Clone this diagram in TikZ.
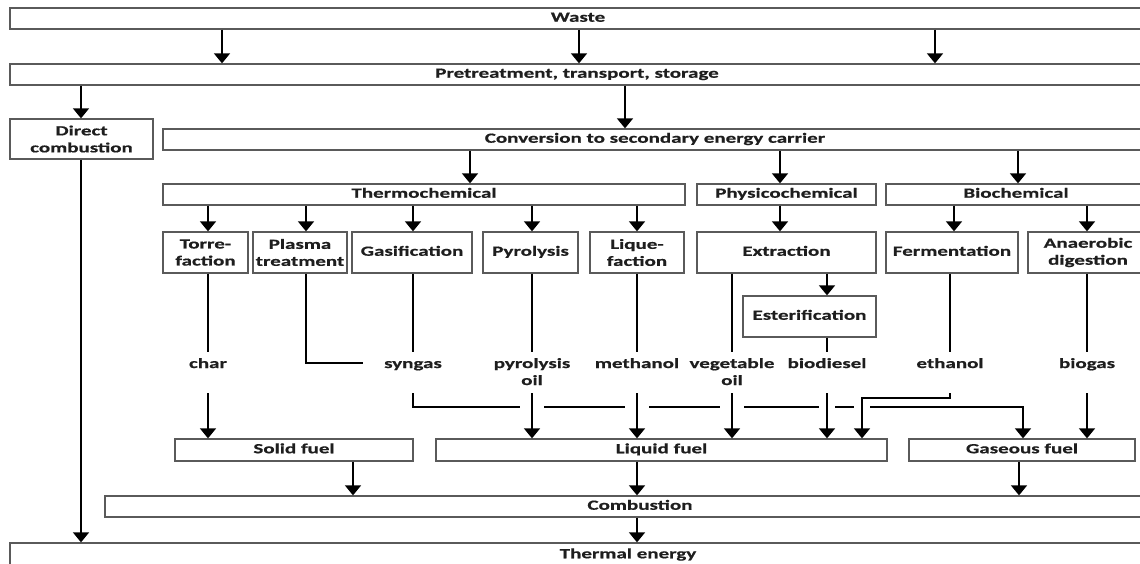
\documentclass[tikz,border=0pt]{standalone}
\usepackage{fontspec}
\setmainfont{Carlito}[FakeStretch=1.5, FakeBold=0.6]
\usetikzlibrary{arrows.meta}
\definecolor{boxgray}{HTML}{5A5A5A}
\definecolor{txt}{HTML}{1E1E1E}
\begin{document}
\begin{tikzpicture}[x=1pt,y=-1pt,
  every node/.style={font=\fontsize{14}{17}\selectfont\bfseries, text=txt},
  box/.style={draw=boxgray, line width=1.3pt, inner sep=0pt, align=center, text height=9.5pt, text depth=3pt},
  boxtwo/.style={draw=boxgray, line width=1.3pt, inner sep=0pt, align=center},
  lab/.style={inner xsep=0pt, inner ysep=6pt, align=center, anchor=base},
  labone/.style={lab, text height=10pt, text depth=3pt},
  arr/.style={line width=1.6pt, -{Triangle[width=16pt,length=10pt]}},
  ln/.style={line width=1.6pt},
  gap/.style={white, line width=5pt}
]
\useasboundingbox (0,0) rectangle (1140,564);
\fill[white] (0,0) rectangle (1140,564);
\clip (0,0) rectangle (1140,564);

% boxes
\node[box, minimum width=1136pt, minimum height=21pt] (waste) at (578,18.5) {Waste};
\node[box, minimum width=1134pt, minimum height=21pt] (pre) at (577,74.5) {Pretreatment, transport, storage};
\node[boxtwo, minimum width=143pt, minimum height=40pt] (dc) at (81.5,139) {Direct\\combustion};
\node[box, minimum width=984pt, minimum height=21pt] (conv) at (655,139.5) {Conversion to secondary energy carrier};
\node[box, minimum width=522pt, minimum height=21pt] (thermo) at (424,194.5) {Thermochemical};
\node[box, minimum width=179pt, minimum height=21pt] (physico) at (786.5,194.5) {Physicochemical};
\node[box, minimum width=260pt, minimum height=21pt] (bio) at (1016,194.5) {Biochemical};
\node[boxtwo, minimum width=85pt, minimum height=41pt] (torr) at (205.5,252.5) {Torre-\\faction};
\node[boxtwo, minimum width=94pt, minimum height=41pt] (plasma) at (300,252.5) {Plasma\\treatment};
\node[box, minimum width=120pt, minimum height=41pt] (gasif) at (412,252.5) {Gasification};
\node[box, minimum width=95pt, minimum height=41pt] (pyro) at (530.5,252.5) {Pyrolysis};
\node[boxtwo, minimum width=94pt, minimum height=41pt] (lique) at (637,252.5) {Lique-\\faction};
\node[box, minimum width=179pt, minimum height=41pt] (extr) at (786.5,252.5) {Extraction};
\node[box, minimum width=132pt, minimum height=41pt] (ferm) at (952,252.5) {Fermentation};
\node[boxtwo, minimum width=120pt, minimum height=41pt] (anaer) at (1088,252.5) {Anaerobic\\digestion};
\node[box, minimum width=133pt, minimum height=41pt] (ester) at (809.5,316.5) {Esterification};
\node[box, minimum width=238pt, minimum height=22pt] (solid) at (294,450) {Solid fuel};
\node[box, minimum width=451pt, minimum height=22pt] (liquid) at (661.5,450) {Liquid fuel};
\node[box, minimum width=226pt, minimum height=22pt] (gas) at (1022,450) {Gaseous fuel};
\node[box, minimum width=1070pt, minimum height=21pt] (comb) at (640,506.5) {Combustion};
\node[box, minimum width=1236pt, minimum height=24pt] (thermal) at (628,555) {Thermal energy};

% product labels
\node[labone] (char) at (208,368) {char};
\node[labone] (syngas) at (413,368) {syngas};
\node[lab] (pyl) at (532,385) {pyrolysis\\oil};
\node[labone] (meth) at (637,368) {methanol};
\node[lab] (veg) at (732,385) {vegetable\\oil};
\node[labone] (biod) at (827,368) {biodiesel};
\node[labone] (eth) at (950,368) {ethanol};
\node[labone] (biog) at (1087,368) {biogas};

% helper coordinates
\path (222,0) coordinate (wA) (579,0) coordinate (wB) (935,0) coordinate (wC)
      (81,0) coordinate (pD) (625,0) coordinate (pC)
      (470,0) coordinate (cT) (780,0) coordinate (cP) (1018,0) coordinate (cB)
      (306,0) coordinate (tB) (954,0) coordinate (bA)
      (353,0) coordinate (sC) (1019,0) coordinate (gC)
      (862,0) coordinate (ethX) (1023,0) coordinate (synX)
      (0,393) coordinate (yS) (0,407) coordinate (yH) (0,398) coordinate (yE)
      (363,363) coordinate (pEnd);

% upper arrows
\foreach \c in {wA,wB,wC} \draw[arr] (waste.south -| \c) -- (pre.north -| \c);
\draw[arr] (pre.south -| pD) -- (dc.north -| pD);
\draw[arr] (pre.south -| pC) -- (conv.north -| pC);
\draw[arr] (dc.south -| pD) -- (thermal.north -| pD);
\draw[arr] (conv.south -| cT) -- (thermo.north -| cT);
\draw[arr] (conv.south -| cP) -- (physico.north -| cP);
\draw[arr] (conv.south -| cB) -- (bio.north -| cB);
\draw[arr] (thermo.south -| char) -- (torr.north -| char);
\draw[arr] (thermo.south -| tB) -- (plasma.north -| tB);
\draw[arr] (thermo.south -| syngas) -- (gasif.north -| syngas);
\draw[arr] (thermo.south -| pyl) -- (pyro.north -| pyl);
\draw[arr] (thermo.south -| meth) -- (lique.north -| meth);
\draw[arr] (physico.south -| cP) -- (extr.north -| cP);
\draw[arr] (bio.south -| bA) -- (ferm.north -| bA);
\draw[arr] (bio.south -| biog) -- (anaer.north -| biog);
\draw[arr] (extr.south -| biod) -- (ester.north -| biod);

% process to product lines
\draw[ln] (torr.south -| char) -- (char.north);
\draw[ln] (plasma.south -| tB) |- (pEnd);
\draw[ln] (gasif.south -| syngas) -- (syngas.north);
\draw[ln] (pyro.south -| pyl) -- (pyl.north);
\draw[ln] (lique.south -| meth) -- (meth.north);
\draw[ln] (extr.south -| veg) -- (veg.north);
\draw[ln] (ester.south -| biod) -- (biod.north);
\draw[ln] (ferm.south -| eth) -- (eth.north);
\draw[ln] (anaer.south -| biog) -- (biog.north);

% products to fuels
\draw[arr] (char |- yS) -- (solid.north -| char);
\draw[arr] (syngas |- yS) |- (yH -| synX) -- (gas.north -| synX);
\draw[gap] (pyl |- yH) ++(-12,0) -- ++(24,0);
\draw[gap] (meth |- yH) ++(-12,0) -- ++(24,0);
\draw[gap] (veg |- yH) ++(-12,0) -- ++(24,0);
\draw[gap] (biod |- yH) ++(-8,0) -- ++(16,0);
\draw[gap] (ethX |- yH) ++(-8,0) -- ++(16,0);
\draw[arr] (pyl |- yS) -- (liquid.north -| pyl);
\draw[arr] (meth |- yS) -- (liquid.north -| meth);
\draw[arr] (veg |- yS) -- (liquid.north -| veg);
\draw[arr] (biod |- yS) -- (liquid.north -| biod);
\draw[arr] (eth |- yS) -- (eth |- yE) -- (yE -| ethX) -- (liquid.north -| ethX);
\draw[arr] (biog |- yS) -- (gas.north -| biog);

% fuels to combustion
\draw[arr] (solid.south -| sC) -- (comb.north -| sC);
\draw[arr] (liquid.south -| meth) -- (comb.north -| meth);
\draw[arr] (gas.south -| gC) -- (comb.north -| gC);
\draw[arr] (comb.south -| meth) -- (thermal.north -| meth);
\end{tikzpicture}
\end{document}
